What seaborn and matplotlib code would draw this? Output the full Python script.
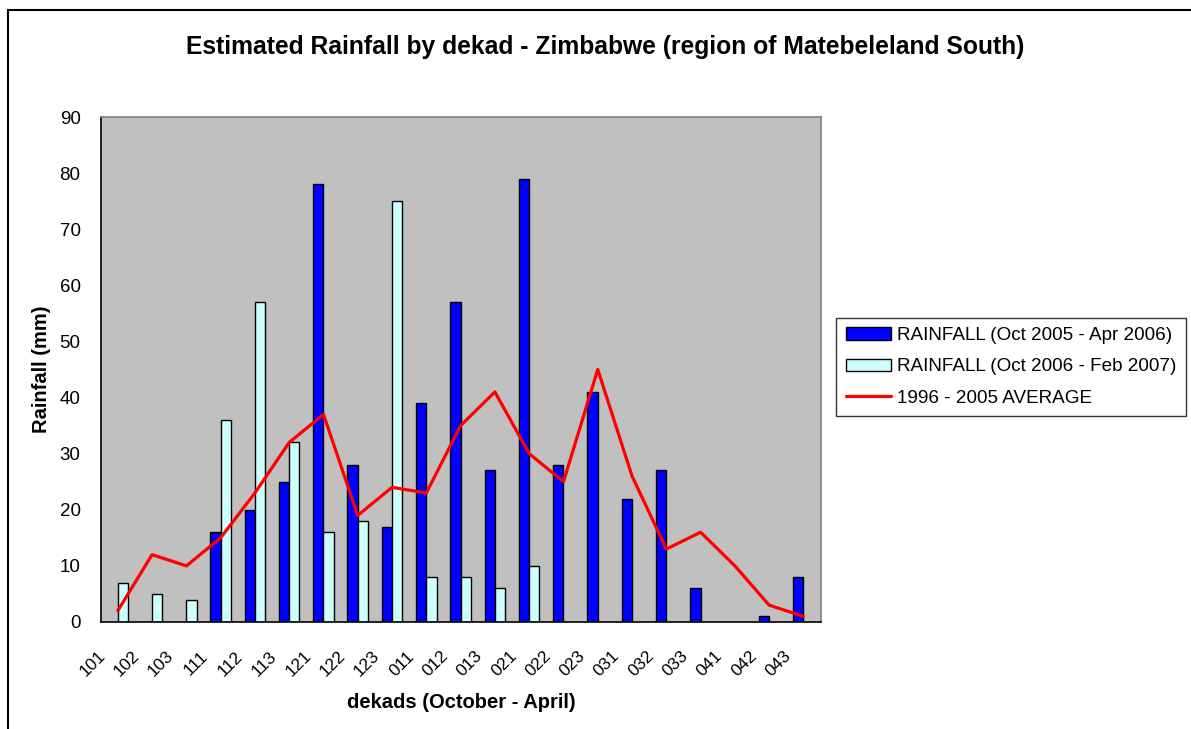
import matplotlib
matplotlib.use("Agg")
import matplotlib.pyplot as plt
import numpy as np
import pandas as pd
import seaborn as sns
from matplotlib.lines import Line2D
from matplotlib.patches import Patch, Rectangle

DEKADS = ["101", "102", "103", "111", "112", "113", "121", "122", "123",
          "011", "012", "013", "021", "022", "023", "031", "032", "033",
          "041", "042", "043"]

# Oct 2005 - Apr 2006 (zero / no bar -> NaN)
RAIN_2005 = [np.nan, np.nan, np.nan, 16, 20, 25, 78, 28, 17,
             39, 57, 27, 79, 28, 41, 22, 27, 6,
             np.nan, 1, 8]
# Oct 2006 - Feb 2007
RAIN_2006 = [7, 5, 4, 36, 57, 32, 16, 18, 75,
             8, 8, 6, 10, np.nan, np.nan, np.nan, np.nan, np.nan,
             np.nan, np.nan, np.nan]
# 1996 - 2005 average
AVERAGE = [2, 12, 10, 15, 23, 32, 37, 19, 24,
           23, 35, 41, 30, 25, 45, 26, 13, 16,
           10, 3, 1]

SERIES = ["RAINFALL (Oct 2005 - Apr 2006)", "RAINFALL (Oct 2006 - Feb 2007)"]
LINE_LABEL = "1996 - 2005 AVERAGE"

_BLUE = "#0000FF"
_CYAN = "#CCFFFF"
_RED = "#FF0000"

sns.set_style("white")
plt.rcParams["font.family"] = ["Liberation Sans", "DejaVu Sans"]
plt.rcParams["text.color"] = "black"
plt.rcParams["xtick.color"] = "black"
plt.rcParams["ytick.color"] = "black"

df = pd.DataFrame({
    "dekad": DEKADS * 2,
    "rain": RAIN_2005 + RAIN_2006,
    "series": [SERIES[0]] * len(DEKADS) + [SERIES[1]] * len(DEKADS),
}).dropna()

fig = plt.figure(figsize=(11.91, 7.29), dpi=100)
ax = fig.add_axes([0.0845, 0.1468, 0.6045, 0.6927])
ax.set_facecolor("#C0C0C0")

sns.barplot(
    data=df, x="dekad", y="rain", hue="series",
    order=DEKADS, hue_order=SERIES,
    palette=[_BLUE, _CYAN], saturation=1, width=0.6, gap=0,
    errorbar=None, edgecolor="black", linewidth=1.0,
    legend=False, ax=ax,
)
sns.lineplot(x=np.arange(len(DEKADS)), y=AVERAGE, color=_RED,
             linewidth=2.3, ax=ax)

ax.set_xlim(-0.5, len(DEKADS) - 0.5)
ax.set_ylim(0, 90)
ax.set_yticks(range(0, 91, 10))

# tick marks on category boundaries, labels just left of each centre
n = len(DEKADS)
ax.set_xticks(np.arange(n + 1) - 0.5, minor=True)
ax.set_xticks(np.arange(n) - 0.28)
ax.set_xticklabels(DEKADS, rotation=45, ha="right")
ax.tick_params(axis="x", which="major", length=0, pad=19, labelsize=12.5)
ax.tick_params(axis="x", which="minor", direction="inout", length=9,
               width=1, color="#333333")
ax.tick_params(axis="y", direction="inout", length=9, width=1,
               color="#333333", pad=10, labelsize=13.5)
ax.set_xlabel("")
ax.set_ylabel("")

for side in ["left", "bottom"]:
    ax.spines[side].set_color("black")
    ax.spines[side].set_linewidth(1.2)
for side in ["top", "right"]:
    ax.spines[side].set_color("#808080")
    ax.spines[side].set_linewidth(1.2)

fig.text(0.508, 0.9355, "Estimated Rainfall by dekad - Zimbabwe (region of Matebeleland South)",
         ha="center", va="center", fontsize=17.7, fontweight="bold")
fig.text(0.035, 0.4936, "Rainfall (mm)", rotation=90, ha="center", va="center",
         fontsize=14.5, fontweight="bold")
fig.text(0.387, 0.0357, "dekads (October - April)", ha="center", va="center",
         fontsize=14.5, fontweight="bold")

handles = [
    Patch(facecolor=_BLUE, edgecolor="black", linewidth=1.0),
    Patch(facecolor=_CYAN, edgecolor="black", linewidth=1.0),
    Line2D([], [], color=_RED, linewidth=2.3),
]
leg = fig.legend(handles, SERIES + [LINE_LABEL], loc="center left",
                 bbox_to_anchor=(0.702, 0.4966), fontsize=13.6,
                 frameon=True, fancybox=False, shadow=False,
                 handlelength=2.4, handleheight=0.65, handletextpad=0.35,
                 labelspacing=0.75, borderpad=0.5, borderaxespad=0)
leg.get_frame().set_edgecolor("black")
leg.get_frame().set_linewidth(1.0)

fig.patches.append(Rectangle((0.0067, -0.05), 1.2, 0.9863 + 0.05,
                             transform=fig.transFigure, fill=False,
                             edgecolor="black", linewidth=1.5))

fig.savefig("out.png", dpi=100)
